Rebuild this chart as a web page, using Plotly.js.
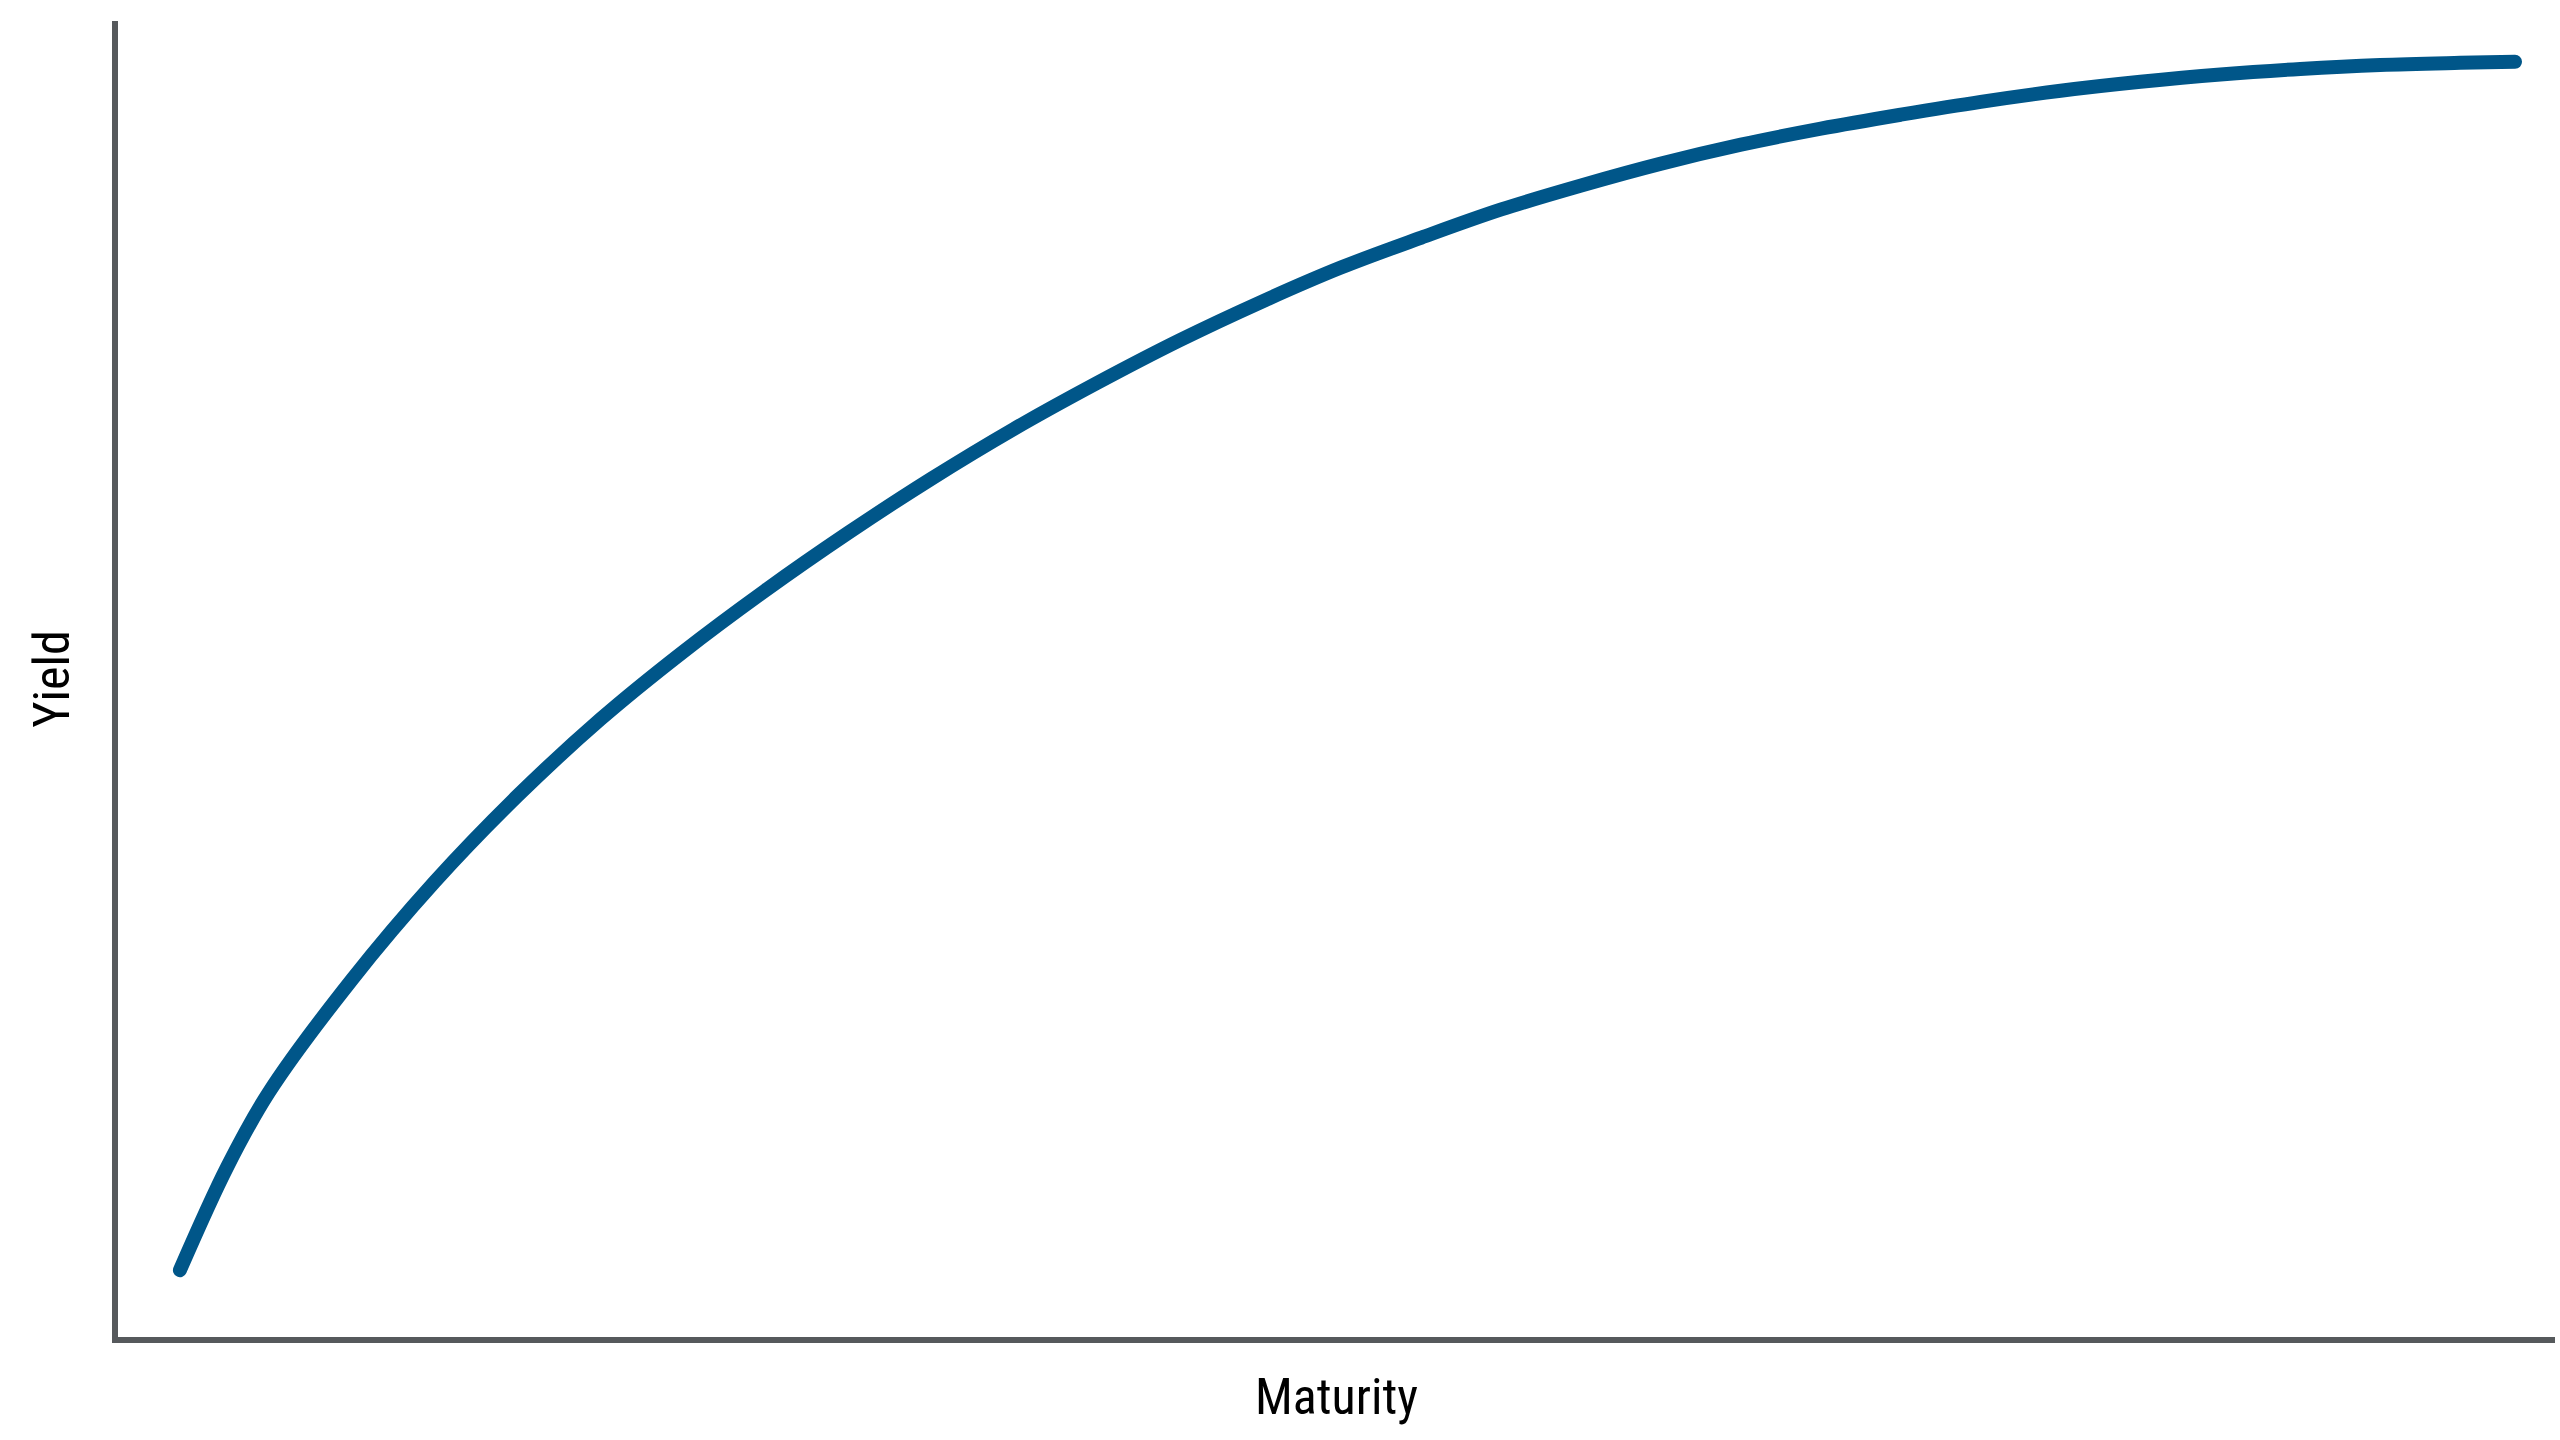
<!DOCTYPE html>
<html>
<head>
<meta charset="utf-8">
<script src="https://cdn.plot.ly/plotly-3.0.1.min.js"></script>
<style>
	html, body { margin: 0; padding: 0; background: #ffffff; }
	#chart { width: 2560px; height: 1440px; }
	/* rounded ends on the curve, like the reference */
	.scatterlayer .js-line { stroke-linecap: round !important; }
</style>
</head>
<body>
<div id="chart"></div>
<script>
// yield curve (maturity in years, yield in %)
const maturity = [0.813, 1.430, 1.980, 3.069, 4.157, 5.246, 6.334, 7.410, 8.498, 9.587,
	10.675, 11.764, 12.852, 13.941, 15.030, 16.066, 17.115, 18.164, 19.213, 20.262,
	21.311, 22.361, 23.410, 24.459, 25.508, 26.557, 27.607, 28.656, 29.705, 30.754, 31.475];
const yieldPct = [0.254, 0.644, 0.929, 1.357, 1.729, 2.056, 2.347, 2.601, 2.836, 3.055,
	3.260, 3.450, 3.624, 3.787, 3.935, 4.064, 4.177, 4.284, 4.375, 4.458,
	4.530, 4.591, 4.644, 4.693, 4.735, 4.769, 4.797, 4.818, 4.833, 4.841, 4.845];
const xTitle = "Maturity";
const yTitle = "Yield";

const titleFont = {
	family: "Roboto Condensed, Liberation Sans Narrow, Roboto, sans-serif",
	size: 50,
	color: "#000000"
};

const trace = {
	x: maturity,
	y: yieldPct,
	type: "scatter",
	mode: "lines",
	line: {
		color: "#005689",
		width: 14,
		shape: "spline",
		smoothing: 1,
		simplify: false
	},
	hoverinfo: "skip"
};

Plotly.newPlot("chart", [trace], {
	width: 2560,
	height: 1440,
	paper_bgcolor: "#ffffff",
	plot_bgcolor: "#ffffff",
	showlegend: false,
	margin: {
		t: 21,
		r: 5,
		b: 103,
		l: 118
	},
	xaxis: {
		range: [0, 32],
		showline: true,
		linecolor: "#56595c",
		linewidth: 6,
		showgrid: false,
		zeroline: false,
		showticklabels: false,
		ticks: "",
		title: {
			text: xTitle,
			font: titleFont,
			standoff: 39
		}
	},
	yaxis: {
		range: [0, 5],
		showline: true,
		linecolor: "#56595c",
		linewidth: 6,
		showgrid: false,
		zeroline: false,
		showticklabels: false,
		ticks: "",
		title: {
			text: yTitle,
			font: titleFont,
			standoff: 29
		}
	}
}, {
	displayModeBar: false,
	staticPlot: true
});
</script>
</body>
</html>
